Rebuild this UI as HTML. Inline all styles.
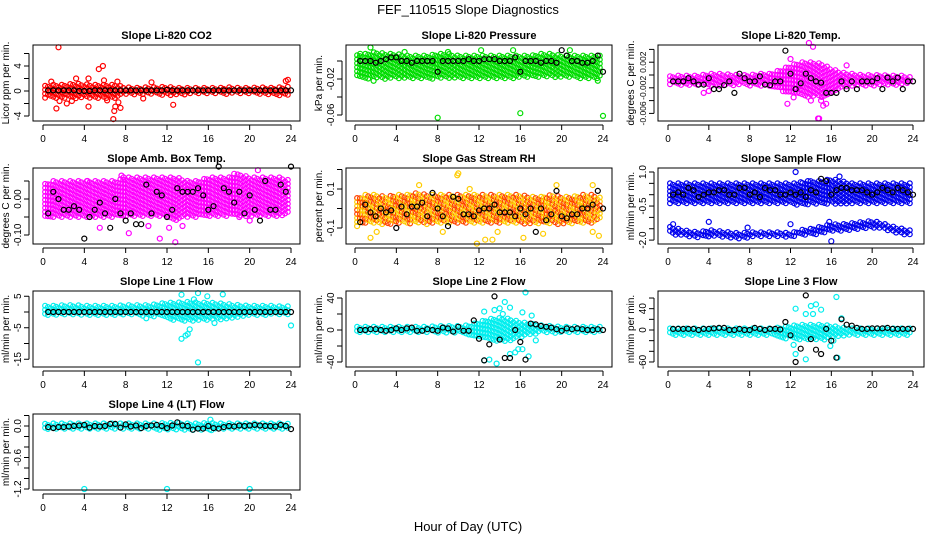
<!DOCTYPE html>
<html><head><meta charset="utf-8"><style>
body{margin:0;background:#fff}
svg{display:block;font-family:"Liberation Sans",sans-serif}
</style></head><body>
<svg id="c" width="936" height="540" viewBox="0 0 936 540">
<text x="468" y="14" text-anchor="middle" font-size="13">FEF_110515  Slope Diagnostics</text>
<text x="468" y="531" text-anchor="middle" font-size="13">Hour of Day (UTC)</text>
</svg>
<script>
// shared categories
const HALF_HOURS=[0.5,1,1.5,2,2.5,3,3.5,4,4.5,5,5.5,6,6.5,7,7.5,8,8.5,9,9.5,10,10.5,11,11.5,12,12.5,13,13.5,14,14.5,15,15.5,16,16.5,17,17.5,18,18.5,19,19.5,20,20.5,21,21.5,22,22.5,23,23.5,24];
const X_TICKS=[0,4,8,12,16,20,24];
// panel 1 CO2
const co2BandLo=[-1.2,-1.2,-1.2,-1.3,-1.2,-1.2,-1.3,-1.2,-0.6,-0.6,-0.6,-0.6,-0.7,-0.6,-0.6,-0.5,-0.5,-0.5,-0.5,-0.5,-0.5,-0.6,-0.6,-0.8,-0.6];
const co2BandHi=[0.8,1.0,1.0,1.2,1.1,1.0,1.0,1.0,0.6,0.5,0.6,0.6,0.7,0.5,0.5,0.5,0.5,0.5,0.6,0.5,0.5,0.6,0.5,0.6,0.7];
const co2OutX=[1.5,0.8,1.3,1.6,3.2,4.4,4.4,5.4,5.8,5.9,6.8,6.9,7.0,7.5,7.2,10.5,12.6,23.5,23.7,2.3,2.8,9.7,7.3,6.2];
const co2OutY=[7,1.5,-2.8,-1.6,2,2,-2.5,3.5,4,1.7,-4.5,-3.2,-2.5,-2.7,1.5,1.4,-2.2,1.6,1.8,-2,-1.6,-1.2,-1.8,-1.5];
const co2Black=[0.1,0.1,0.1,0.1,0.1,0.1,0,0,0,0.1,0.1,0.1,0.1,0.1,0.1,0.1,0.1,0.1,0.1,0.1,0.1,0.1,0.1,0.2,0.1,0.1,0.1,0.1,0.1,0.1,0.1,0.1,0.1,0.1,0.1,0.1,0.1,0.1,0.1,0.1,0.1,0.1,0.1,0.1,0.1,0.1,0.1,0.1];
// panel 2 pressure
const prsBandLo=[-0.02,-0.02,-0.02,-0.02,-0.02,-0.02,-0.02,-0.02,-0.02,-0.02,-0.02,-0.02,-0.02,-0.02,-0.02,-0.02,-0.018,-0.018,-0.018,-0.018,-0.018,-0.018,-0.02,-0.02,-0.018];
const prsBandHi=[0.006,0.008,0.01,0.008,0.008,0.006,0.006,0.006,0.008,0.008,0.006,0.006,0.006,0.006,0.006,0.006,0.006,0.006,0.008,0.008,0.006,0.006,0.006,0.006,0.006];
const prsOutX=[8,16,24,1.5,1.8,23.5,20.8,12.2,15.3,0.5,4.8,9];
const prsOutY=[-0.063,-0.058,-0.061,0.015,-0.022,-0.022,0.012,0.012,0.012,0.008,0.01,0.01];
const prsBlack=[0,0,0,-0.002,0,0.002,0.004,0.004,0,0,-0.002,0,0,0,0,-0.012,0,0,0,0,0,0.002,0,0,0.002,0.002,0.002,0,0,0,0.004,-0.012,0,0,0,-0.002,0,0,-0.002,0.012,0.006,0,0,-0.002,-0.002,0,0.006,-0.012];
// panel 3 Li-820 temp
const tmpBandLo=[-0.0016,-0.0016,-0.0016,-0.0016,-0.0018,-0.0018,-0.0016,-0.0016,-0.0018,-0.0018,-0.0018,-0.0025,-0.003,-0.0035,-0.0035,-0.0035,-0.003,-0.0022,-0.0018,-0.0018,-0.0018,-0.0016,-0.0016,-0.0016,-0.0014];
const tmpBandHi=[-0.0002,-0.0001,-0.0001,-0.0001,0.0002,0.0002,0.0001,0,0,0.0002,0.0002,0.0008,0.0015,0.002,0.002,0.0018,0.001,0.0004,0.0002,0,0,0,-0.0001,-0.0001,-0.0004];
const tmpOutX=[11.7,14.7,14.8,15.2,13.8,12.0,17.5,4,3.5,15,14,14.2,12.3,15.5];
const tmpOutY=[-0.0045,-0.0068,-0.0068,-0.0048,0.005,0.0025,0.0015,-0.0025,-0.0028,-0.004,-0.004,0.0044,-0.0035,-0.0045];
const tmpBlack=[-0.001,-0.001,-0.001,-0.0005,-0.001,-0.0015,-0.0015,-0.0005,-0.0022,-0.0022,-0.0016,-0.001,-0.0028,0.0002,-0.0005,-0.001,-0.001,-0.0002,-0.0015,-0.0016,-0.001,-0.001,0.0038,0.0002,-0.0022,-0.0013,0.0002,-0.0005,-0.001,-0.0012,-0.0028,-0.0028,-0.0028,-0.001,-0.0022,-0.001,-0.0022,-0.001,-0.001,-0.001,-0.0005,-0.0022,-0.0004,-0.001,-0.0004,-0.0022,-0.001,-0.001];
// panel 4 amb box temp
const ambBandLo=[-0.05,-0.05,-0.05,-0.05,-0.05,-0.05,-0.05,-0.05,-0.05,-0.05,-0.05,-0.05,-0.05,-0.06,-0.05,-0.05,-0.05,-0.05,-0.05,-0.05,-0.05,-0.05,-0.05,-0.05,-0.04];
const ambBandHi=[0.04,0.05,0.05,0.05,0.05,0.05,0.05,0.05,0.06,0.06,0.06,0.06,0.06,0.06,0.05,0.05,0.06,0.06,0.06,0.07,0.06,0.06,0.06,0.06,0.05];
const ambOutX=[5.5,8.3,10.2,11.3,12.8,12.2,20.8,18.5,7.8,13.5,20,19,7.6,4.3];
const ambOutY=[-0.08,-0.095,-0.075,-0.11,-0.12,-0.08,0.08,0.07,0.06,-0.075,-0.06,-0.05,0.065,0.05];
const ambBlack=[-0.04,0.02,0,-0.03,-0.03,-0.02,-0.03,-0.11,-0.05,-0.03,-0.01,-0.04,-0.08,0,-0.04,-0.06,-0.04,-0.07,-0.07,0.04,-0.04,0.02,0.01,-0.05,-0.03,0.03,0.02,0.02,0.02,0.03,0.01,-0.03,-0.02,0.09,0.03,0.02,-0.01,0.02,-0.04,0.01,-0.03,-0.06,0.05,-0.03,-0.03,0.04,0.02,0.09];
// panel 5 gas stream RH
const rhBandLo=[-0.08,-0.08,-0.08,-0.08,-0.08,-0.08,-0.08,-0.08,-0.08,-0.08,-0.08,-0.08,-0.08,-0.08,-0.08,-0.08,-0.08,-0.08,-0.08,-0.08,-0.08,-0.08,-0.08,-0.08,-0.06];
const rhBandHi=[0.05,0.07,0.07,0.06,0.07,0.07,0.08,0.07,0.07,0.07,0.07,0.07,0.07,0.07,0.07,0.07,0.07,0.06,0.06,0.07,0.06,0.06,0.07,0.07,0.05];
const rhOutX=[9.9,10,11.8,12.6,13.3,1.5,2.1,16.3,18.2,23.0,23.6,6.2,19.5,23,8.5,13.8,0.2,11.1];
const rhOutY=[0.17,0.18,-0.18,-0.16,-0.16,-0.15,-0.12,-0.15,-0.13,-0.12,-0.14,0.12,0.12,0.12,-0.12,-0.12,-0.09,0.1];
const rhBlack=[-0.07,0.02,-0.02,-0.04,0,-0.02,-0.01,-0.1,0.01,-0.03,0.01,0.01,0.03,-0.04,0.08,0,-0.04,-0.09,0.06,0.05,-0.03,-0.03,-0.04,-0.01,0,0,0.02,-0.02,-0.02,-0.02,-0.04,0,-0.03,0,-0.12,0,-0.06,-0.03,0.09,-0.04,-0.05,-0.03,-0.03,0,0,0.02,0.09,0];
// panel 6 sample flow (two bands)
const sfBandLo=[-0.4,-0.4,-0.4,-0.4,-0.4,-0.4,-0.4,-0.4,-0.4,-0.4,-0.4,-0.4,-0.4,-0.5,-0.4,-0.4,-0.4,-0.4,-0.4,-0.4,-0.4,-0.4,-0.4,-0.4,-0.4];
const sfBandHi=[0.5,0.5,0.5,0.5,0.5,0.5,0.5,0.5,0.5,0.5,0.5,0.5,0.5,0.5,0.6,0.6,0.7,0.6,0.5,0.5,0.5,0.5,0.5,0.5,0.5];
const sfLowLo=[-1.7,-1.8,-1.85,-1.9,-1.85,-1.85,-1.9,-1.95,-1.9,-1.85,-1.85,-1.85,-1.9,-1.8,-1.8,-1.7,-1.6,-1.6,-1.55,-1.5,-1.45,-1.5,-1.65,-1.75,-1.8];
const sfLowHi=[-1.4,-1.5,-1.6,-1.65,-1.55,-1.6,-1.65,-1.7,-1.65,-1.65,-1.65,-1.65,-1.7,-1.55,-1.5,-1.4,-1.3,-1.3,-1.25,-1.2,-1.15,-1.25,-1.4,-1.5,-1.6];
const sfOutX=[12.5,0.5,4.0,7.8,12.0,13.0,16.8,16.0,13.7,15.8];
const sfOutY=[1.0,-1.3,-1.2,-1.45,-1.3,0.55,0.8,-2.05,0.6,-1.2];
const sfBlack=[0,0.1,0,0.3,0.2,-0.1,0,0.1,0.1,0.2,0.2,0,0,0.3,0.3,0,0.1,-0.1,0.3,0.2,0.2,0,0,0.1,0,0.1,-0.1,0.2,0.1,0.7,0.6,0,0.2,0.3,0.3,0.2,0.2,0.2,0.1,0,0.1,0.3,0.2,0.1,0.3,0.2,0.1,0];
// panel 7 line 1 flow
const l1BandLo=[-1,-1,-1,-1,-1,-1,-1,-1,-1,-1,-1.5,-1.5,-2.5,-2.5,-3,-3,-2.5,-2.5,-2,-1.5,-1,-1,-1,-1,-1];
const l1BandHi=[2,2,2.2,2.2,2,2,2,2,2.2,2.2,2.2,2.5,3,3,3.2,3,3,2.8,2.5,2.2,2,2,2,1.8,1.8];
const l1OutX=[13.4,15,15.9,17.4,13.4,13.8,14,14.2,15,24,16.6,10,14.6];
const l1OutY=[5.5,6,5,5.6,-8.5,-7.5,-7,-5.5,-16,-4.3,-3.5,-2,4];
const l1Black=[0,0,0,0,0,0,0,0,0,0,0,0,0,0,0,0,0,0,0,0,0,0,0,0,0,0,0,0,0,0,0,0,0,0,0,0,0,0,0,0,0,0,0,0,0,0,0,0];
// panel 8 line 2 flow
const l2BandLo=[-4,-4,-4,-4,-4,-4,-4,-4,-4,-4,-5,-6,-10,-14,-15,-14,-10,-6,-4,-4,-4,-4,-4,-4,-4];
const l2BandHi=[4,4,4,4,4,4,4,4,5,5,5,6,10,14,15,14,10,8,6,5,4,4,4,4,4];
const l2OutX=[12.5,13.5,14,14.5,15,16.5,16.2,17.1,13,13.7,15,15.8,16.2,16.8,12.5,17.5,14.3,15.5];
const l2OutY=[23,25,27,35,28,47,22,18,-37,-42,-30,-24,-24,-33,-38,-13,20,-28];
const l2Black=[0,0,1,1,0,-1,0,2,0,2,3,-1,-1,1,0,-1,3,2,-2,4,-1,-1,12,-11,-38,-18,42,-12,-35,-35,0,-15,-37,8,7,5,4,3,1,-1,2,1,2,1,0,0,1,0];
// panel 9 line 3 flow
const l3BandLo=[-12,-12,-12,-12,-12,-12,-12,-12,-12,-12,-12,-14,-18,-20,-20,-20,-16,-12,-12,-12,-12,-12,-12,-12,-10];
const l3BandHi=[3,3,3,3,3,3,3,3,3,3,3,5,8,10,10,10,8,5,3,3,3,3,3,3,3];
const l3OutX=[12.5,14,14.5,16.5,15,13.5,12.5,13.5,16.6,15.9,16.2,17,14.2,12.3];
const l3OutY=[40,45,48,62,38,30,-45,-55,-52,-30,-20,22,30,-28];
const l3Black=[2,2,2,2,2,0,2,2,3,4,4,0,0,2,0,0,4,2,0,2,2,1,15,-10,-60,-35,65,-17,-37,-45,2,-20,-52,20,10,8,4,2,2,3,3,3,4,2,2,2,2,2];
// panel 10 line 4 flow
const l4BandLo=[-0.07,-0.07,-0.07,-0.07,-0.07,-0.07,-0.07,-0.07,-0.07,-0.07,-0.07,-0.08,-0.08,-0.08,-0.08,-0.08,-0.08,-0.07,-0.07,-0.07,-0.07,-0.07,-0.07,-0.07,-0.06];
const l4BandHi=[0.04,0.05,0.05,0.05,0.05,0.05,0.05,0.05,0.05,0.05,0.05,0.05,0.06,0.06,0.05,0.05,0.06,0.05,0.05,0.05,0.05,0.05,0.05,0.05,0.04];
const l4OutX=[4,12,20,16.2,16.3];
const l4OutY=[-1.2,-1.2,-1.2,0.12,-0.08];
const l4Black=[-0.02,-0.04,-0.02,-0.02,-0.01,0,0.01,0.02,-0.03,0,-0.01,0,0.04,0.04,-0.03,0.03,-0.01,0.01,-0.04,0,0.01,0.02,0,-0.04,0.01,0.07,0.01,0,-0.07,-0.05,-0.05,0,-0.04,-0.05,-0.02,0,-0.01,0.01,0,0.01,0.02,0.01,0,0,-0.01,0.02,0,-0.06];

const panels=[
 {title:"Slope Li-820 CO2",ylab:"Licor ppm per min.",col:0,row:0,z:91,k:6.25,ticks:[-4,-2,0,2,4,6],labs:[-4,0,4],fmt:v=>String(v),lo:co2BandLo,hi:co2BandHi,ox:co2OutX,oy:co2OutY,blk:co2Black,color:"#ff0000"},
 {title:"Slope Li-820 Pressure",ylab:"kPa per min.",col:1,row:0,z:61,k:900,ticks:[0,-0.02,-0.04,-0.06],labs:[-0.02,-0.06],fmt:v=>v.toFixed(2),lo:prsBandLo,hi:prsBandHi,ox:prsOutX,oy:prsOutY,blk:prsBlack,color:"#00dd00"},
 {title:"Slope Li-820 Temp.",ylab:"degrees C per min.",col:2,row:0,z:75,k:6400,ticks:[0.004,0.002,0,-0.002,-0.004,-0.006],labs:[0.002,-0.002,-0.006],fs:8.5,fmt:v=>v.toFixed(3),lo:tmpBandLo,hi:tmpBandHi,ox:tmpOutX,oy:tmpOutY,blk:tmpBlack,color:"#ff00ff"},
 {title:"Slope Amb. Box Temp.",ylab:"degrees C per min.",col:0,row:1,z:199,k:360,ticks:[0.05,0,-0.05,-0.1],labs:[0,-0.1],fmt:v=>v.toFixed(2),lo:ambBandLo,hi:ambBandHi,ox:ambOutX,oy:ambOutY,blk:ambBlack,color:"#ff00ff"},
 {title:"Slope Gas Stream RH",ylab:"percent per min.",col:1,row:1,z:208.5,k:195,ticks:[0.2,0.1,0,-0.1],labs:[0.1,-0.1],fmt:v=>v.toFixed(1),lo:rhBandLo,hi:rhBandHi,ox:rhOutX,oy:rhOutY,blk:rhBlack,color:"#ffcc00",color2:"#ff4400"},
 {title:"Slope Sample Flow",ylab:"ml/min per min.",col:2,row:1,z:194.7,k:22.7,ticks:[1,0.5,0,-0.5,-1,-1.5,-2],labs:[1,-0.5,-2],fmt:v=>v.toFixed(1),lo:sfBandLo,hi:sfBandHi,lo2:sfLowLo,hi2:sfLowHi,ox:sfOutX,oy:sfOutY,blk:sfBlack,color:"#0000ee"},
 {title:"Slope Line 1 Flow",ylab:"ml/min per min.",col:0,row:2,z:312,k:3.15,ticks:[5,0,-5,-10,-15],labs:[5,-5,-15],fmt:v=>String(v),lo:l1BandLo,hi:l1BandHi,ox:l1OutX,oy:l1OutY,blk:l1Black,color:"#00eeee"},
 {title:"Slope Line 2 Flow",ylab:"ml/min per min.",col:1,row:2,z:330,k:0.8,ticks:[40,20,0,-20,-40],labs:[40,0,-40],fmt:v=>String(v),lo:l2BandLo,hi:l2BandHi,ox:l2OutX,oy:l2OutY,blk:l2Black,color:"#00eeee"},
 {title:"Slope Line 3 Flow",ylab:"ml/min per min.",col:2,row:2,z:330,k:0.533,ticks:[60,40,20,0,-20,-40,-60],labs:[40,0,-60],fmt:v=>String(v),lo:l3BandLo,hi:l3BandHi,ox:l3OutX,oy:l3OutY,blk:l3Black,color:"#00eeee"},
 {title:"Slope Line 4 (LT) Flow",ylab:"ml/min per min.",col:0,row:3,z:426,k:52.5,ticks:[0.2,0,-0.2,-0.4,-0.6,-0.8,-1,-1.2],labs:[0,-0.6,-1.2],fmt:v=>v.toFixed(1),lo:l4BandLo,hi:l4BandHi,ox:l4OutX,oy:l4OutY,blk:l4Black,color:"#00eeee"}
];
const NS="http://www.w3.org/2000/svg";
const svg=document.getElementById('c');
const BOXL=[33,346,658],BOXR=[300,612,924],X0=[43,355,668],X24=[291,603,913];
const TOP=[45,168,291,414];
function mk(tag,attrs,parent){const e=document.createElementNS(NS,tag);for(const a in attrs)e.setAttribute(a,attrs[a]);parent.appendChild(e);return e;}
panels.forEach((p,pi)=>{
 const g=mk('g',{},svg);
 
 
 const L=BOXL[p.col],R=BOXR[p.col],T=TOP[p.row],B=T+76;
 const xs=h=>X0[p.col]+h*(X24[p.col]-X0[p.col])/24;
 const ys=v=>p.z-v*p.k;
 const pts=mk('g',{fill:'none','stroke-width':1.2},g);
 
 
 function dot(h,v,col){mk('circle',{cx:xs(h).toFixed(1),cy:ys(v).toFixed(1),r:2.5,stroke:col},pts);}
 function band(lo,hi){
  let n=0;
  for(let h=0.2;h<=23.95;h+=0.27){
   const i=Math.min(23,Math.floor(h));const f=h-i;
   const l=lo[i]+(lo[i+1]-lo[i])*f,u=hi[i]+(hi[i+1]-hi[i])*f;
   const yl=ys(l),yu=ys(u);const off=(n%3)*1.3;n++;
   let m=0;
   for(let y=yu+off;y<=yl;y+=4){
    m++;
    const col=p.color2&&((n*5+m*3)%4<2)?p.color2:p.color;
    mk('circle',{cx:xs(h).toFixed(1),cy:y.toFixed(1),r:2.4,stroke:col},pts);
   }
  }
 }
 band(p.lo,p.hi);
 if(p.lo2)band(p.lo2,p.hi2);
 p.ox.forEach((h,i)=>dot(h,p.oy[i],p.color));
 p.blk.forEach((v,i)=>dot(HALF_HOURS[i],v,'#000'));
 const box=mk('rect',{x:L,y:T,width:R-L,height:B-T,fill:'none',stroke:'#000','stroke-width':1},g);
 
 
 mk('line',{x1:xs(0),x2:xs(24),y1:B+4,y2:B+4,stroke:'#000'},g);
 X_TICKS.forEach(t=>{
  mk('line',{x1:xs(t),x2:xs(t),y1:B+4,y2:B+9,stroke:'#000'},g);
  const tx=mk('text',{x:xs(t),y:B+21,'text-anchor':'middle','font-size':10},g);tx.textContent=t;
  
  
 });
 const inT=p.ticks.filter(t=>ys(t)>=T-1&&ys(t)<=B+1);
 mk('line',{x1:L-4,x2:L-4,y1:ys(Math.max(...inT)),y2:ys(Math.min(...inT)),stroke:'#000'},g);
 inT.forEach(t=>mk('line',{x1:L-9,x2:L-4,y1:ys(t),y2:ys(t),stroke:'#000'},g));
 p.labs.forEach(t=>{
  const y=ys(t);
  const tx=mk('text',{x:L-12,y:y,'text-anchor':'middle','font-size':p.fs||10,transform:`rotate(-90 ${L-12} ${y})`},g);
  tx.textContent=p.fmt(t);
  
  
 });
 const yl=mk('text',{x:L-24,y:(T+B)/2,'text-anchor':'middle','font-size':10,transform:`rotate(-90 ${L-24} ${(T+B)/2})`},g);
 yl.textContent=p.ylab;
 
 
 const tt=mk('text',{x:(L+R)/2,y:T-6,'text-anchor':'middle','font-size':11,'font-weight':'bold'},g);
 tt.textContent=p.title;
 
 
});
</script>
</body></html>
